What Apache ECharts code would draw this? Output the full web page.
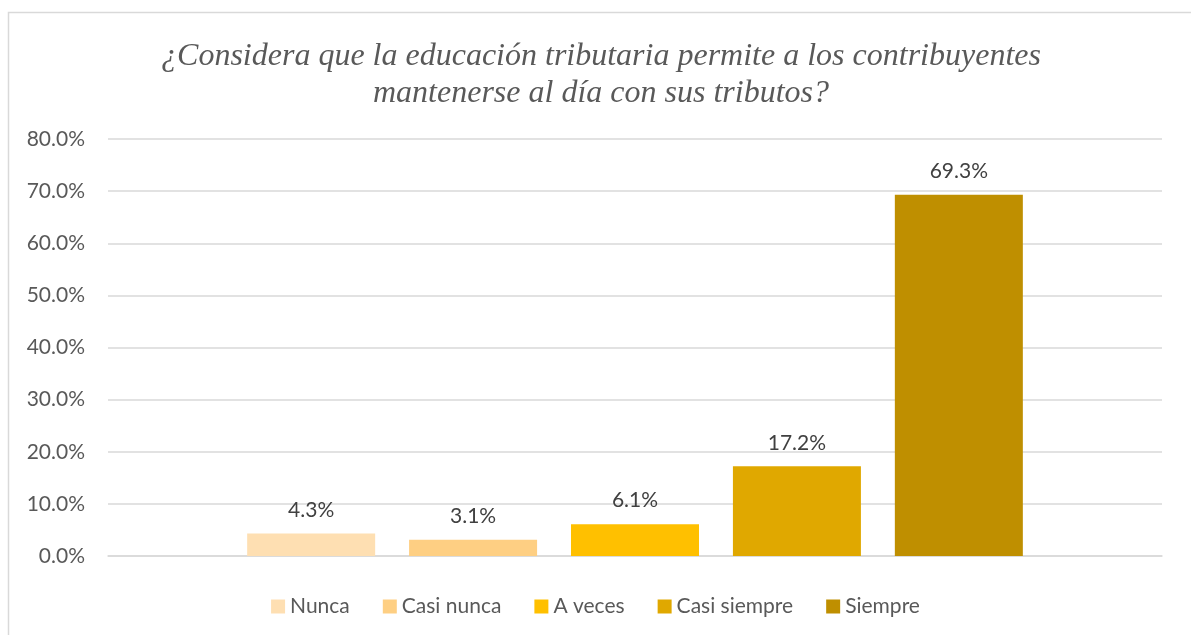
<!DOCTYPE html>
<html>
<head>
<meta charset="utf-8">
<script src="https://cdn.jsdelivr.net/npm/echarts@6/dist/echarts.min.js"></script>
<style>
  html, body { margin: 0; padding: 0; background: #fff; }
  #chart { width: 1191px; height: 635px; }
</style>
</head>
<body>
<div id="chart"></div>
<script>
// categories and values (percent)
var seriesNames = ['Nunca', 'Casi nunca', 'A veces', 'Casi siempre', 'Siempre'];
var seriesValues = [4.3, 3.1, 6.1, 17.2, 69.3];
var seriesColors = ['#FEDFB2', '#FECF83', '#FFC000', '#E0A800', '#BF8F00'];
var yTicks = { min: 0, max: 80, interval: 10 };

var chart = echarts.init(document.getElementById('chart'));

var series = seriesNames.map(function (name, i) {
  return {
    name: name,
    type: 'bar',
    data: [seriesValues[i]],
    barWidth: 128,
    barGap: '26.5%',
    itemStyle: { color: seriesColors[i] },
    label: {
      show: true,
      position: 'top',
      distance: 13,
      formatter: function (p) { return p.value.toFixed(1) + '%'; },
      color: '#404040',
      fontFamily: 'Lato',
      fontSize: 21
    }
  };
});

var option = {
  animation: false,
  backgroundColor: '#fff',
  graphic: [{
    type: 'rect',
    shape: { x: 8.5, y: 12.5, width: 1300, height: 700 },
    style: { fill: 'none', stroke: '#D9D9D9', lineWidth: 1.5 },
    silent: true
  }],
  title: {
    text: '¿Considera que la educación tributaria permite a los contribuyentes\nmantenerse al día con sus tributos?',
    left: 596,
    top: 33,
    textAlign: 'center',
    textStyle: {
      fontFamily: '"Liberation Serif", serif',
      fontStyle: 'italic',
      fontWeight: 'normal',
      fontSize: 32,
      lineHeight: 37,
      color: '#595959'
    }
  },
  legend: {
    bottom: 13,
    left: 'center',
    itemWidth: 14,
    itemHeight: 14,
    itemGap: 33,
    icon: 'rect',
    textStyle: { fontFamily: 'Lato', fontSize: 21, color: '#595959' },
    data: seriesNames
  },
  grid: { left: 108, right: 29, top: 139, bottom: 79 },
  xAxis: {
    type: 'category',
    data: [''],
    axisLine: { lineStyle: { color: '#D9D9D9', width: 1.5 } },
    axisTick: { show: false },
    axisLabel: { show: false }
  },
  yAxis: {
    type: 'value',
    min: yTicks.min,
    max: yTicks.max,
    interval: yTicks.interval,
    axisLine: { show: false },
    axisTick: { show: false },
    splitLine: { lineStyle: { color: '#D9D9D9', width: 1.5 } },
    axisLabel: {
      formatter: function (v) { return v.toFixed(1) + '%'; },
      color: '#595959',
      fontFamily: 'Lato',
      fontSize: 21,
      margin: 23
    }
  },
  series: series
};

chart.setOption(option);
</script>
</body>
</html>
